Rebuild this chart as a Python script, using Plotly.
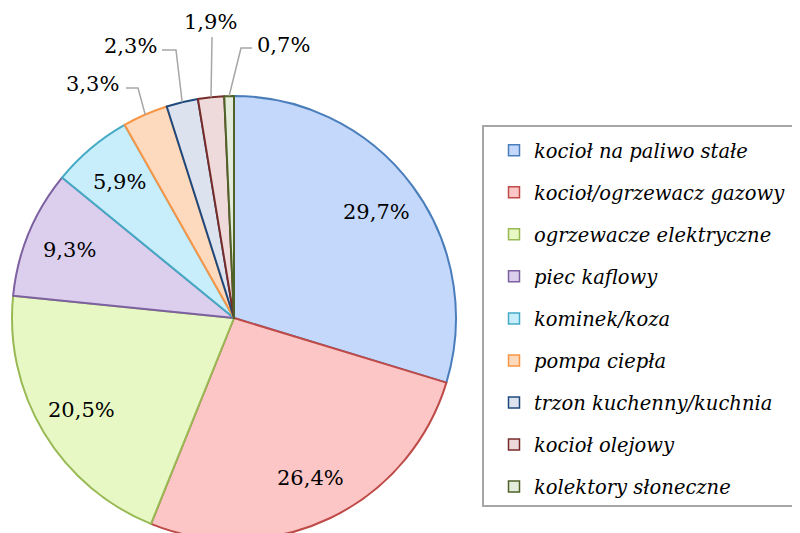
import math
import plotly.graph_objects as go

# ---- data ----
labels = ["kocioł na paliwo stałe", "kocioł/ogrzewacz gazowy", "ogrzewacze elektryczne",
          "piec kaflowy", "kominek/koza", "pompa ciepła", "trzon kuchenny/kuchnia",
          "kocioł olejowy", "kolektory słoneczne"]
values = [29.7, 26.4, 20.5, 9.3, 5.9, 3.3, 2.3, 1.9, 0.7]

fill_colors = ["#c4d8fb", "#fdc6c6", "#e7f8c4", "#dccfee", "#c8eefb",
               "#fdd9bd", "#dde3ee", "#eedadb", "#e4ecdb"]
line_colors = ["#4a7ebb", "#be4b48", "#98b954", "#7d60a0", "#46aac5",
               "#f79646", "#1f497d", "#772c2a", "#4f6228"]

# ---- layout geometry (screen pixels; page has an 8px body margin) ----
W, H = 800, 533
OFF = 8
CX, CY, R = 234, 318, 222
LABEL_FONT = dict(family="DejaVu Serif", size=21, color="black")

def px(x):
    return (x - OFF) / W

def py(y):
    return (H - (y - OFF)) / H

fig = go.Figure()
fig.add_trace(go.Pie(
    labels=labels, values=values, sort=False, direction="clockwise", rotation=0,
    marker=dict(colors=fill_colors, line=dict(color=line_colors, width=2)),
    textinfo="none", showlegend=False,
    domain=dict(x=[px(CX - R), px(CX + R)], y=[py(CY + R), py(CY - R)]),
))

# legend entries (one per category)
for i, (lab, fc, lc) in enumerate(zip(labels, fill_colors, line_colors)):
    fig.add_trace(go.Scatter(
        x=[None], y=[None], mode="markers", name=lab, legendgroup=f"g{i}",
        marker=dict(symbol="square", size=11, color=fc, line=dict(color=lc, width=1.5)),
        showlegend=True, hoverinfo="skip",
    ))

total = sum(values)
cum = 0.0
annotations = []
shapes = []
small_label_pos = {5: (92, 84), 6: (130, 46), 7: (210, 22), 8: (283, 45)}
elbows = {5: [(126, 88), (138, 88)], 6: [(162, 50), (176, 50)],
          7: [(212, 37)], 8: [(252, 48), (241, 48)]}
for i, v in enumerate(values):
    mid = (cum + v / 2) / total * 2 * math.pi
    cum += v
    txt = f"{v:.1f}%".replace(".", ",")
    if i in small_label_pos:
        lx, ly = small_label_pos[i]
        ex, ey = CX + R * math.sin(mid), CY - R * math.cos(mid)
        pts = elbows[i] + [(ex, ey)]
        path = "M " + " L ".join(f"{px(a)},{py(b)}" for a, b in pts)
        shapes.append(dict(type="path", path=path, xref="paper", yref="paper",
                           line=dict(color="#a6a6a6", width=1.5)))
    else:
        rr = 0.8 * R
        lx, ly = CX + rr * math.sin(mid), CY - rr * math.cos(mid)
    annotations.append(dict(x=px(lx), y=py(ly), xref="paper", yref="paper", text=txt,
                            showarrow=False, xanchor="center", yanchor="middle",
                            font=LABEL_FONT))

shapes.append(dict(type="rect", xref="paper", yref="paper",
                   x0=px(483), x1=px(820), y0=py(506), y1=py(126),
                   line=dict(color="#a6a6a6", width=2), fillcolor="rgba(0,0,0,0)"))

fig.update_layout(
    width=W, height=H, margin=dict(l=0, r=0, t=0, b=0),
    paper_bgcolor="white", plot_bgcolor="white",
    xaxis=dict(visible=False), yaxis=dict(visible=False),
    showlegend=True,
    legend=dict(x=px(494), y=py(131), xanchor="left", yanchor="top",
                font=dict(family="DejaVu Serif", size=19.5, color="black", style="italic"),
                bgcolor="rgba(0,0,0,0)", borderwidth=0, tracegroupgap=13.7,
                itemclick=False, itemdoubleclick=False),
    annotations=annotations, shapes=shapes,
)
fig.write_html("out.html")
